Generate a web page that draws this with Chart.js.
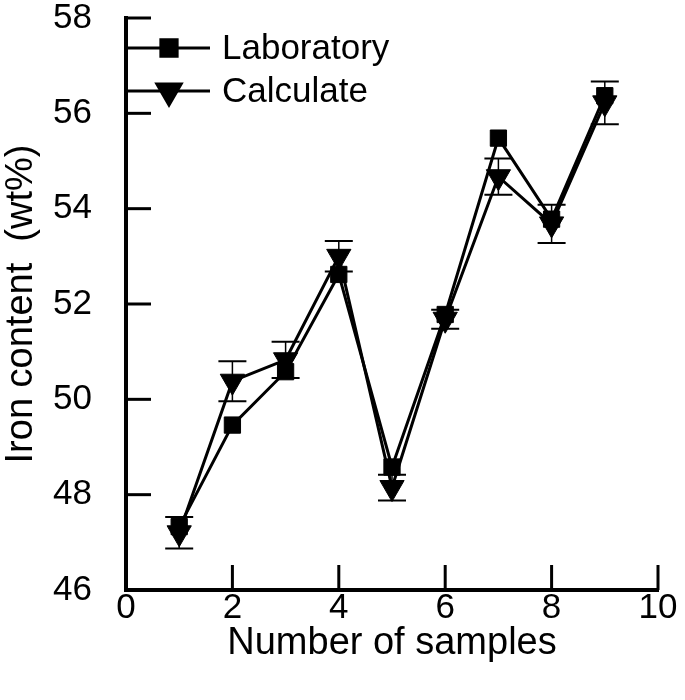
<!DOCTYPE html>
<html>
<head>
<meta charset="utf-8">
<script src="https://cdn.jsdelivr.net/npm/chart.js@4.4.0/dist/chart.umd.min.js"></script>
<style>
  html, body { margin: 0; padding: 0; background: #fff; }
</style>
</head>
<body>
<canvas id="ironChart" width="685" height="700"></canvas>
<script>
// values
const samples = [1, 2, 3, 4, 5, 6, 7, 8, 9];
const laboratory = [47.33, 49.46, 50.58, 52.62, 48.58, 51.78, 55.48, 53.78, 56.37];
const calculate = [47.2, 50.38, 50.83, 53.0, 48.15, 51.68, 54.67, 53.68, 56.22];
const calculateErr = [0.33, 0.42, 0.38, 0.32, 0.27, 0.2, 0.38, 0.4, 0.45];
const xTicks = [0, 2, 4, 6, 8, 10];
const yTicks = [46, 48, 50, 52, 54, 56, 58];

const FONT = '"Liberation Sans", Arial, sans-serif';

// ticks pointing into the plot, error bars and the legend
const extras = {
  id: 'extras',
  afterDatasetsDraw(chart) {
    const { ctx, scales: { x, y } } = chart;
    ctx.save();
    ctx.strokeStyle = '#000';
    samples.forEach((s, i) => {
      const px = x.getPixelForValue(s);
      const top = y.getPixelForValue(calculate[i] + calculateErr[i]);
      const bot = y.getPixelForValue(calculate[i] - calculateErr[i]);
      ctx.lineWidth = 1.5;
      ctx.beginPath();
      ctx.moveTo(px, top);
      ctx.lineTo(px, bot);
      ctx.stroke();
      ctx.lineWidth = 2;
      ctx.beginPath();
      ctx.moveTo(px - 14, top); ctx.lineTo(px + 14, top);
      ctx.moveTo(px - 14, bot); ctx.lineTo(px + 14, bot);
      ctx.stroke();
    });
    ctx.restore();
  },
  afterDraw(chart) {
    const { ctx, chartArea: a, scales: { x, y } } = chart;
    ctx.save();
    ctx.strokeStyle = '#000';
    ctx.fillStyle = '#000';
    ctx.lineWidth = 3;
    yTicks.slice(1).forEach(v => {
      const py = y.getPixelForValue(v);
      ctx.beginPath(); ctx.moveTo(a.left, py); ctx.lineTo(a.left + 25, py); ctx.stroke();
    });
    xTicks.slice(1).forEach(v => {
      const px = x.getPixelForValue(v);
      ctx.beginPath(); ctx.moveTo(px, a.bottom); ctx.lineTo(px, a.bottom - 25); ctx.stroke();
    });

    // legend
    const rows = [
      { text: 'Laboratory', y: 48, style: 'rect', r: 11.5, rot: 0 },
      { text: 'Calculate', y: 91, style: 'triangle', r: 14, rot: 180 }
    ];
    ctx.font = '35px ' + FONT;
    ctx.textBaseline = 'middle';
    rows.forEach(row => {
      ctx.lineWidth = 3;
      ctx.beginPath(); ctx.moveTo(a.left, row.y); ctx.lineTo(a.left + 84, row.y); ctx.stroke();
      Chart.helpers.drawPoint(ctx, { pointStyle: row.style, radius: row.r, rotation: row.rot, borderWidth: 1 }, a.left + 43, row.y);
      ctx.fill();
      ctx.fillText(row.text, a.left + 96, row.y + 1);
    });
    ctx.restore();
  }
};

new Chart(document.getElementById('ironChart'), {
  type: 'line',
  data: {
    datasets: [
      {
        label: 'Laboratory',
        data: samples.map((s, i) => ({ x: s, y: laboratory[i] })),
        borderColor: '#000',
        backgroundColor: '#000',
        borderWidth: 3,
        pointStyle: 'rect',
        pointRadius: 11.5,
        pointBorderWidth: 1
      },
      {
        label: 'Calculate',
        data: samples.map((s, i) => ({ x: s, y: calculate[i] })),
        borderColor: '#000',
        backgroundColor: '#000',
        borderWidth: 3,
        pointStyle: 'triangle',
        pointRotation: 180,
        pointRadius: 14,
        pointBorderWidth: 1
      }
    ]
  },
  options: {
    responsive: false,
    animation: false,
    layout: { padding: { left: 0, right: 27, top: 18, bottom: 0 } },
    plugins: {
      legend: { display: false },
      tooltip: { enabled: false }
    },
    scales: {
      x: {
        type: 'linear',
        min: 0,
        max: 10,
        afterBuildTicks: s => { s.ticks = xTicks.map(v => ({ value: v })); },
        afterFit: s => { s.height = 110; },
        grid: { display: false, drawTicks: false },
        border: { display: true, color: '#000', width: 4 },
        ticks: { color: '#000', padding: 1, font: { family: FONT, size: 35, lineHeight: 1 } },
        title: {
          display: true,
          text: 'Number of samples',
          color: '#000',
          padding: { top: 0, bottom: 37 },
          font: { family: FONT, size: 38, lineHeight: 1 }
        }
      },
      y: {
        min: 46,
        max: 58,
        afterBuildTicks: s => { s.ticks = yTicks.map(v => ({ value: v })); },
        afterFit: s => { s.width = 126; s.paddingTop = 0; s.paddingBottom = 0; },
        grid: { display: false, drawTicks: false },
        border: { display: true, color: '#000', width: 4 },
        ticks: { color: '#000', padding: 34, font: { family: FONT, size: 35, lineHeight: 1 } },
        title: {
          display: true,
          text: 'Iron content  (wt%)',
          color: '#000',
          padding: { top: 3, bottom: 0 },
          font: { family: FONT, size: 38, lineHeight: 1 }
        }
      }
    }
  },
  plugins: [extras]
});
</script>
</body>
</html>
